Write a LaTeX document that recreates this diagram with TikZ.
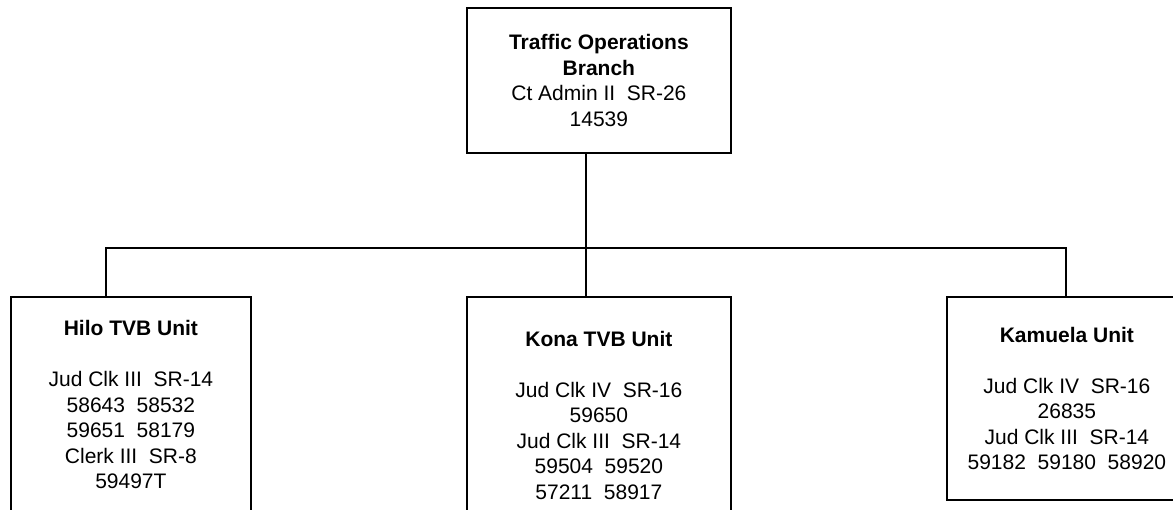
\documentclass[tikz,border=0pt]{standalone}
\usepackage{fontspec}
\setmainfont{Liberation Sans}
\begin{document}
\begin{tikzpicture}[x=1pt,y=-1pt,
  box/.style={draw, line width=1.8pt, rectangle, align=center, inner sep=0pt,
    font=\fontsize{21}{25.5}\selectfont, anchor=north west},
  wire/.style={line width=1.8pt}]
\useasboundingbox (0,0) rectangle (1173,510);
\clip (0,0) rectangle (1173,510);
\fill[white] (0,0) rectangle (1173,510);

\node[box, minimum width=264pt, minimum height=145pt] (top) at (466,7)
  {\textbf{Traffic Operations}\\\textbf{Branch}\\Ct Admin II~~SR-26\\14539};

\node[box, minimum width=240pt, minimum height=216pt] (hilo) at (10,296)
  {\textbf{Hilo TVB Unit}\\[25.5pt]Jud Clk III~~SR-14\\58643~~58532\\59651~~58179\\Clerk III~~SR-8\\59497T};

\node[box, minimum width=264pt, minimum height=237pt] (kona) at (466,296)
  {\textbf{Kona TVB Unit}\\[25.5pt]Jud Clk IV~~SR-16\\59650\\Jud Clk III~~SR-14\\59504~~59520\\57211~~58917};

\node[box, minimum width=240pt, minimum height=203pt] (kam) at (946,296)
  {\textbf{Kamuela Unit}\\[25.5pt]Jud Clk IV~~SR-16\\26835\\Jud Clk III~~SR-14\\59182~~59180~~58920};

\coordinate (j) at (586,248);
\coordinate (bl) at (106,248);
\coordinate (br) at (1066,248);

\draw[wire] (top.south -| j) -- (j);
\draw[wire] (hilo.north -| bl) -- (bl) -- (br) -- (kam.north -| br);
\draw[wire] (j) -- (kona.north -| j);
\end{tikzpicture}
\end{document}
